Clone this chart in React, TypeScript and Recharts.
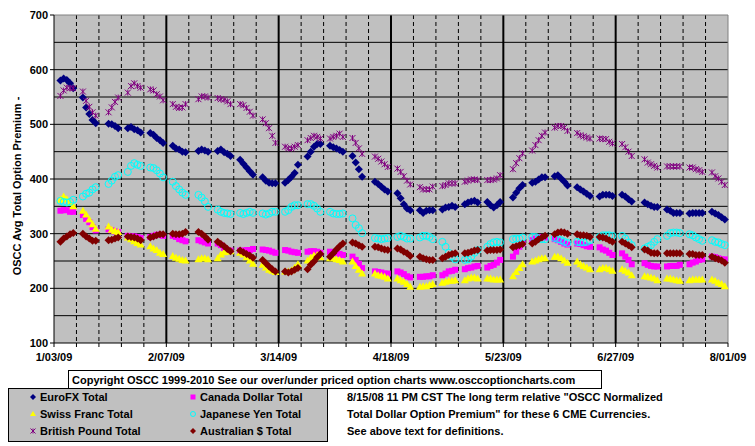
import { ScatterChart, Scatter, XAxis, YAxis, CartesianGrid } from "recharts";

// days counted from 1/03/09, trading days only (holidays left out)
const tradingDays = [
  2, 3, 4, 5, 6,
  9, 10, 11, 12, 13,
  17, 18, 19, 20,
  23, 24, 25, 26, 27,
  30, 31, 32, 33, 34,
  37, 38, 39, 40, 41,
  45, 46, 47, 48,
  51, 52, 53, 54, 55,
  58, 59, 60, 61, 62,
  65, 66, 67, 68, 69,
  72, 73, 74, 75, 76,
  79, 80, 81, 82, 83,
  86, 87, 88, 89, 90,
  93, 94, 95, 96,
  100, 101, 102, 103, 104,
  107, 108, 109, 110, 111,
  114, 115, 116, 117, 118,
  121, 122, 123, 124, 125,
  128, 129, 130, 131, 132,
  135, 136, 137, 138, 139,
  143, 144, 145, 146,
  149, 150, 151, 152, 153,
  156, 157, 158, 159, 160,
  163, 164, 165, 166, 167,
  170, 171, 172, 173, 174,
  177, 178, 179, 180,
  184, 185, 186, 187, 188,
  191, 192, 193, 194, 195,
  198, 199, 200, 201, 202,
  205, 206, 207, 208, 209,
];

const euroFx = [
  580, 584, 581, 575, 566,
  549, 531, 519, 508, 502,
  501, 500, 497, 493,
  493, 495, 491, 489, 485,
  484, 481, 475, 471, 466,
  461, 456, 454, 450, 449,
  451, 454, 452, 450,
  451, 454, 449, 446, 442,
  435, 428, 421, 414, 408,
  403, 397, 393, 392, 392,
  393, 398, 404, 411, 426,
  441, 450, 459, 464, 464,
  461, 458, 456, 453, 450,
  442, 430, 418, 404,
  395, 391, 386, 381, 377,
  374, 365, 354, 346, 343,
  343, 338, 342, 343, 343,
  344, 348, 349, 351, 349,
  354, 357, 359, 360, 357,
  358, 352, 348, 352, 358,
  366, 375, 383, 389,
  393, 395, 399, 403, 403,
  405, 407, 401, 395, 388,
  385, 381, 377, 373, 369,
  368, 371, 371, 371, 369,
  371, 368, 363, 359,
  357, 354, 351, 349, 349,
  344, 342, 338, 338, 338,
  337, 338, 338, 338, 338,
  340, 337, 334, 330, 326,
];

const canadaDollar = [
  342, 343, 343, 340, 340,
  334, 327, 321, 312, 306,
  308, 306, 304, 303,
  296, 295, 295, 294, 292,
  294, 296, 298, 298, 296,
  296, 294, 290, 288, 286,
  288, 286, 284, 282,
  282, 279, 274, 270, 269,
  269, 269, 270, 270, 272,
  271, 270, 269, 267, 265,
  270, 269, 267, 266, 265,
  267, 268, 268, 267, 265,
  267, 266, 264, 263, 261,
  258, 252, 245, 237,
  231, 230, 229, 227, 227,
  231, 229, 226, 222, 220,
  221, 221, 222, 222, 224,
  224, 227, 231, 232, 234,
  235, 237, 238, 240, 241,
  238, 241, 243, 247, 252,
  258, 267, 276, 282,
  288, 291, 293, 294, 293,
  290, 288, 285, 282, 280,
  282, 281, 279, 277, 276,
  275, 271, 269, 265, 261,
  264, 258, 252, 244,
  246, 243, 241, 240, 240,
  240, 241, 241, 241, 243,
  244, 247, 249, 252, 253,
  258, 257, 255, 253, 253,
];

const swissFranc = [
  362, 368, 363, 356, 350,
  342, 335, 326, 317, 309,
  313, 307, 305, 303,
  293, 290, 286, 283, 280,
  277, 273, 270, 265, 263,
  259, 256, 254, 252, 251,
  253, 255, 255, 253,
  255, 262, 266, 267, 268,
  265, 262, 257, 251, 245,
  243, 238, 234, 232, 230,
  231, 231, 233, 238, 244,
  251, 256, 260, 261, 257,
  255, 255, 253, 252, 249,
  249, 241, 234, 227,
  227, 224, 223, 221, 218,
  218, 215, 212, 208, 203,
  203, 204, 204, 206, 208,
  210, 212, 214, 214, 215,
  215, 218, 220, 220, 218,
  218, 218, 216, 216, 216,
  222, 230, 237, 244,
  249, 251, 253, 255, 255,
  258, 258, 255, 251, 247,
  249, 244, 241, 238, 235,
  235, 237, 237, 235, 232,
  235, 232, 229, 224,
  222, 221, 220, 218, 215,
  218, 218, 216, 215, 214,
  215, 216, 216, 216, 216,
  216, 214, 210, 208, 204,
];

const japaneseYen = [
  360, 358, 357, 358, 362,
  368, 373, 375, 381, 385,
  391, 397, 404, 407,
  413, 424, 429, 426, 424,
  421, 420, 416, 410, 403,
  395, 387, 381, 375, 371,
  371, 366, 359, 349,
  344, 340, 338, 337, 336,
  338, 336, 338, 340, 338,
  337, 335, 337, 340, 340,
  340, 343, 349, 352, 352,
  354, 354, 351, 346, 340,
  340, 337, 336, 336, 337,
  328, 316, 310, 301,
  292, 291, 290, 291, 292,
  294, 296, 294, 291, 291,
  293, 296, 296, 294, 290,
  285, 276, 265, 258, 253,
  252, 253, 258, 265, 270,
  276, 281, 284, 285, 284,
  290, 291, 291, 293,
  294, 294, 291, 290, 290,
  292, 290, 288, 285, 283,
  285, 284, 284, 285, 288,
  294, 297, 297, 297, 296,
  296, 291, 284, 279,
  273, 276, 279, 285, 290,
  296, 301, 302, 302, 301,
  299, 297, 293, 290, 287,
  288, 285, 284, 281, 279,
];

const britishPound = [
  552, 562, 567, 566, 566,
  560, 543, 532, 522, 516,
  522, 531, 541, 549,
  558, 570, 575, 570, 567,
  564, 562, 555, 551, 544,
  537, 532, 530, 531, 537,
  546, 551, 551, 549,
  548, 546, 545, 542, 537,
  537, 535, 530, 523, 516,
  509, 502, 493, 479, 466,
  459, 456, 456, 459, 462,
  471, 475, 479, 477, 474,
  474, 477, 479, 483, 477,
  475, 466, 456, 446,
  441, 437, 432, 427, 422,
  419, 413, 405, 397, 390,
  385, 381, 381, 381, 386,
  387, 389, 392, 392, 392,
  395, 397, 399, 399, 398,
  398, 398, 399, 401, 407,
  418, 429, 438, 447,
  452, 462, 471, 479, 485,
  494, 497, 497, 494, 488,
  484, 480, 478, 476, 474,
  474, 473, 473, 468, 465,
  464, 458, 450, 442,
  436, 430, 427, 424, 421,
  423, 423, 423, 423, 423,
  421, 421, 418, 416, 413,
  412, 405, 401, 395, 389,
];

const australianDollar = [
  285, 291, 295, 299, 301,
  300, 295, 291, 287, 287,
  288, 289, 291, 293,
  295, 294, 293, 291, 288,
  293, 295, 297, 299, 299,
  300, 299, 299, 300, 303,
  303, 300, 295, 289,
  285, 281, 277, 272, 268,
  269, 266, 263, 260, 256,
  252, 246, 240, 235, 231,
  231, 229, 231, 234, 237,
  235, 243, 249, 257, 263,
  258, 264, 271, 277, 282,
  284, 282, 279, 276,
  276, 275, 273, 271, 270,
  273, 271, 267, 264, 259,
  258, 255, 253, 252, 252,
  255, 258, 261, 263, 264,
  264, 265, 267, 269, 270,
  269, 270, 270, 270, 271,
  275, 277, 279, 281,
  282, 285, 290, 293, 296,
  299, 302, 303, 302, 300,
  299, 297, 297, 296, 294,
  294, 293, 291, 288, 285,
  285, 282, 279, 275,
  271, 269, 265, 264, 264,
  264, 264, 264, 264, 264,
  263, 263, 261, 261, 261,
  258, 255, 253, 251, 247,
];

const weekTicks = [0, 7, 14, 21, 28, 35, 42, 49, 56, 63, 70, 77, 84, 91, 98, 105, 112, 119, 126, 133, 140, 147, 154, 161, 168, 175, 182, 189, 196, 203, 210];
const majorTicks = [0, 35, 70, 105, 140, 175, 210];
const majorLabels = ["1/03/09", "2/07/09", "3/14/09", "4/18/09", "5/23/09", "6/27/09", "8/01/09"];
const yTicks = [100, 200, 300, 400, 500, 600, 700];
const yGridLines = [150, 200, 250, 300, 350, 400, 450, 500, 550, 600, 650];

const FONT = '"Liberation Sans", Arial, sans-serif';

const toPoints = (vals: number[]) => tradingDays.map((d, i) => ({ x: d, y: vals[i] }));

const Diamond = ({ cx, cy, fill, r = 4 }: any) => (
  <polygon points={`${cx},${cy - r} ${cx + r},${cy} ${cx},${cy + r} ${cx - r},${cy}`} fill={fill} />
);
const Square = ({ cx, cy, fill, r = 3 }: any) => (
  <rect x={cx - r} y={cy - r} width={r * 2} height={r * 2} fill={fill} />
);
const Triangle = ({ cx, cy, fill, r = 4 }: any) => (
  <polygon points={`${cx},${cy - r} ${cx + r},${cy + r - 1} ${cx - r},${cy + r - 1}`} fill={fill} />
);
const Ring = ({ cx, cy, stroke, r = 3.5 }: any) => (
  <circle cx={cx} cy={cy} r={r} fill="none" stroke={stroke} strokeWidth={1} />
);
const Star = ({ cx, cy, stroke, r = 3 }: any) => (
  <g stroke={stroke} strokeWidth={1}>
    <line x1={cx - r} y1={cy - r} x2={cx + r} y2={cy + r} />
    <line x1={cx - r} y1={cy + r} x2={cx + r} y2={cy - r} />
    <line x1={cx} y1={cy - r} x2={cx} y2={cy + r} />
  </g>
);

const XTick = ({ x, y, payload }: any) => {
  const idx = majorTicks.indexOf(payload.value);
  if (idx < 0) return <g />;
  return (
    <text x={x} y={y + 12} textAnchor="middle" fontFamily={FONT} fontWeight="bold" fontSize={11} fill="#000">
      {majorLabels[idx]}
    </text>
  );
};

const YTick = ({ x, y, payload }: any) => (
  <text x={x} y={y + 4} textAnchor="end" fontFamily={FONT} fontWeight="bold" fontSize={11} fill="#000">
    {payload.value}
  </text>
);

const legendItems = [
  { name: "EuroFX Total", col: 0, row: 0, kind: "diamond", color: "#000080" },
  { name: "Canada Dollar Total", col: 1, row: 0, kind: "square", color: "#FF00FF" },
  { name: "Swiss Franc Total", col: 0, row: 1, kind: "triangle", color: "#FFFF00" },
  { name: "Japanese Yen Total", col: 1, row: 1, kind: "ring", color: "#00FFFF" },
  { name: "British Pound Total", col: 0, row: 2, kind: "star", color: "#800080" },
  { name: "Australian $ Total", col: 1, row: 2, kind: "diamond", color: "#800000" },
];

const noteLines = [
  '8/15/08 11 PM CST The long term relative "OSCC Normalized',
  'Total Dollar Option Premium" for these 6 CME Currencies.',
  "See above text for definitions.",
];

function LegendMarker({ kind, color, cx, cy }: any) {
  if (kind === "diamond") return <Diamond cx={cx} cy={cy} fill={color} r={3} />;
  if (kind === "square") return <Square cx={cx} cy={cy} fill={color} r={2.5} />;
  if (kind === "triangle") return <Triangle cx={cx} cy={cy} fill={color} r={3} />;
  if (kind === "ring") return <Ring cx={cx} cy={cy} stroke={color} r={2.5} />;
  return <Star cx={cx} cy={cy} stroke={color} r={2.5} />;
}

export default function App() {
  return (
    <div style={{ position: "absolute", left: 0, top: 0, width: 755, height: 446, background: "#fff" }}>
      <ScatterChart width={755} height={446} margin={{ top: 15, right: 27, bottom: 83, left: 4 }}>
        <CartesianGrid fill="#C0C0C0" stroke="#000" vertical={false} horizontalValues={yGridLines} />
        <CartesianGrid
          stroke="#000"
          horizontal={false}
          strokeDasharray="4 3"
          verticalValues={weekTicks.filter((t) => !majorTicks.includes(t))}
        />
        <CartesianGrid stroke="#000" strokeWidth={2} horizontal={false} verticalValues={majorTicks.slice(1, -1)} />
        <CartesianGrid stroke="#808080" horizontalValues={[700]} verticalValues={[210]} />
        <XAxis
          type="number"
          dataKey="x"
          domain={[0, 210]}
          ticks={weekTicks}
          interval={0}
          height={20}
          tickSize={4}
          tick={<XTick />}
          axisLine={{ stroke: "#000" }}
          tickLine={{ stroke: "#000" }}
        />
        <YAxis
          type="number"
          dataKey="y"
          domain={[100, 700]}
          ticks={yTicks}
          interval={0}
          width={50}
          tickSize={4}
          tick={<YTick />}
          axisLine={{ stroke: "#000" }}
          tickLine={{ stroke: "#000" }}
        />
        <Scatter data={toPoints(euroFx)} isAnimationActive={false} shape={(p: any) => <Diamond cx={p.cx} cy={p.cy} fill="#000080" />} />
        <Scatter data={toPoints(canadaDollar)} isAnimationActive={false} shape={(p: any) => <Square cx={p.cx} cy={p.cy} fill="#FF00FF" />} />
        <Scatter data={toPoints(swissFranc)} isAnimationActive={false} shape={(p: any) => <Triangle cx={p.cx} cy={p.cy} fill="#FFFF00" />} />
        <Scatter data={toPoints(japaneseYen)} isAnimationActive={false} shape={(p: any) => <Ring cx={p.cx} cy={p.cy} stroke="#00FFFF" />} />
        <Scatter data={toPoints(britishPound)} isAnimationActive={false} shape={(p: any) => <Star cx={p.cx} cy={p.cy} stroke="#800080" />} />
        <Scatter data={toPoints(australianDollar)} isAnimationActive={false} shape={(p: any) => <Diamond cx={p.cx} cy={p.cy} fill="#800000" />} />
      </ScatterChart>
      <svg width={755} height={446} style={{ position: "absolute", left: 0, top: 0, pointerEvents: "none" }}>
        <text
          transform="translate(17,186) rotate(-90)"
          textAnchor="middle"
          dominantBaseline="central"
          fontFamily={FONT}
          fontWeight="bold"
          fontSize={11}
        >
          OSCC Avg Total Option Premium -
        </text>
        <rect x={68.5} y={370.5} width={533} height={18} fill="#fff" stroke="#000" />
        <text x={72} y={384} fontFamily={FONT} fontWeight="bold" fontSize={11}>
          Copyright OSCC 1999-2010 See our over/under priced option charts www.osccoptioncharts.com
        </text>
        <rect x={8.5} y={388.5} width={319} height={53} fill="#C0C0C0" stroke="#000" />
        {legendItems.map((it) => (
          <g key={it.name}>
            <LegendMarker kind={it.kind} color={it.color} cx={33 + it.col * 160} cy={397 + it.row * 17} />
            <text x={40 + it.col * 160} y={401 + it.row * 17} fontFamily={FONT} fontWeight="bold" fontSize={11}>
              {it.name}
            </text>
          </g>
        ))}
        {noteLines.map((t, i) => (
          <text key={i} x={347} y={401 + i * 17} fontFamily={FONT} fontWeight="bold" fontSize={11}>
            {t}
          </text>
        ))}
      </svg>
    </div>
  );
}
